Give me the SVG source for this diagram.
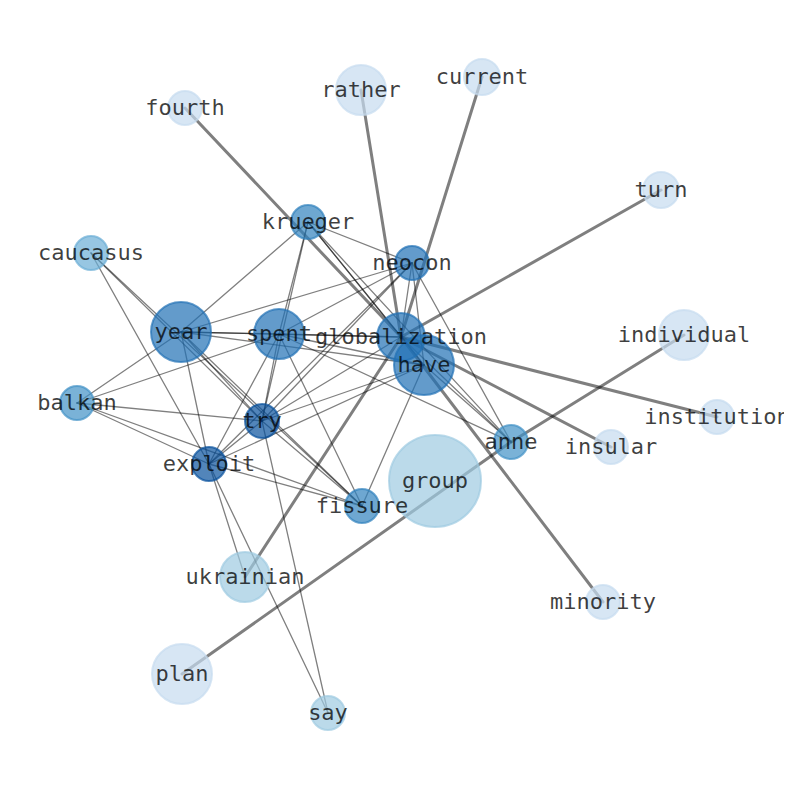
<svg xmlns="http://www.w3.org/2000/svg" width="794" height="790" viewBox="0 0 794 790">
<style>
.e{stroke:#000;stroke-opacity:0.5;fill:none;stroke-linecap:round}
.t{stroke-width:1.3}
.k{stroke-width:3}
circle{fill-opacity:0.7;stroke-opacity:0.7;stroke-width:2}
.c1{fill:#08519c;stroke:#08519c}
.c2{fill:#2171b5;stroke:#2171b5}
.c3{fill:#3182bd;stroke:#3182bd}
.c4{fill:#4292c6;stroke:#4292c6}
.c5{fill:#6baed6;stroke:#6baed6}
.c6{fill:#9ecae1;stroke:#9ecae1}
.c7{fill:#c6dbef;stroke:#c6dbef}
text{font-family:"DejaVu Sans Mono","Liberation Mono",monospace;font-size:22px;fill:#000;fill-opacity:0.75;text-anchor:middle;dominant-baseline:central}
</style>
<defs><clipPath id="frame"><rect x="0" y="0" width="784" height="784"/></clipPath></defs>
<rect width="794" height="790" fill="#fff"/>
<g clip-path="url(#frame)">
<g id="edges">
<line class="e k" x1="185" y1="108" x2="401" y2="337"/>
<line class="e k" x1="361" y1="90" x2="401" y2="337"/>
<line class="e k" x1="482" y1="77" x2="401" y2="337"/>
<line class="e k" x1="661" y1="190" x2="401" y2="337"/>
<line class="e k" x1="717" y1="417" x2="401" y2="337"/>
<line class="e k" x1="611" y1="447" x2="401" y2="337"/>
<line class="e k" x1="603" y1="602" x2="401" y2="337"/>
<line class="e k" x1="245" y1="577" x2="401" y2="337"/>
<line class="e k" x1="684" y1="335" x2="511" y2="442"/>
<line class="e k" x1="182" y1="674" x2="511" y2="442"/>
<line class="e t" x1="308" y1="222" x2="181" y2="332"/>
<line class="e t" x1="308" y1="222" x2="412" y2="263"/>
<line class="e t" x1="308" y1="222" x2="279" y2="334"/>
<line class="e t" x1="308" y1="222" x2="262" y2="421"/>
<line class="e t" x1="308" y1="222" x2="401" y2="337"/>
<line class="e t" x1="308" y1="222" x2="424" y2="365"/>
<line class="e t" x1="308" y1="222" x2="511" y2="442"/>
<line class="e t" x1="412" y1="263" x2="181" y2="332"/>
<line class="e t" x1="412" y1="263" x2="279" y2="334"/>
<line class="e t" x1="412" y1="263" x2="262" y2="421"/>
<line class="e t" x1="412" y1="263" x2="209" y2="464"/>
<line class="e t" x1="412" y1="263" x2="401" y2="337"/>
<line class="e t" x1="412" y1="263" x2="424" y2="365"/>
<line class="e t" x1="412" y1="263" x2="511" y2="442"/>
<line class="e t" x1="181" y1="332" x2="279" y2="334"/>
<line class="e t" x1="181" y1="332" x2="401" y2="337"/>
<line class="e t" x1="181" y1="332" x2="424" y2="365"/>
<line class="e t" x1="181" y1="332" x2="77" y2="403"/>
<line class="e t" x1="181" y1="332" x2="262" y2="421"/>
<line class="e t" x1="181" y1="332" x2="209" y2="464"/>
<line class="e t" x1="181" y1="332" x2="362" y2="506"/>
<line class="e t" x1="279" y1="334" x2="401" y2="337"/>
<line class="e t" x1="279" y1="334" x2="424" y2="365"/>
<line class="e t" x1="279" y1="334" x2="77" y2="403"/>
<line class="e t" x1="279" y1="334" x2="262" y2="421"/>
<line class="e t" x1="279" y1="334" x2="209" y2="464"/>
<line class="e t" x1="279" y1="334" x2="362" y2="506"/>
<line class="e t" x1="279" y1="334" x2="511" y2="442"/>
<line class="e t" x1="91" y1="253" x2="262" y2="421"/>
<line class="e t" x1="91" y1="253" x2="362" y2="506"/>
<line class="e t" x1="91" y1="253" x2="209" y2="464"/>
<line class="e t" x1="77" y1="403" x2="262" y2="421"/>
<line class="e t" x1="77" y1="403" x2="209" y2="464"/>
<line class="e t" x1="77" y1="403" x2="362" y2="506"/>
<line class="e t" x1="262" y1="421" x2="209" y2="464"/>
<line class="e t" x1="262" y1="421" x2="401" y2="337"/>
<line class="e t" x1="262" y1="421" x2="424" y2="365"/>
<line class="e t" x1="262" y1="421" x2="362" y2="506"/>
<line class="e t" x1="262" y1="421" x2="328" y2="713"/>
<line class="e t" x1="209" y1="464" x2="424" y2="365"/>
<line class="e t" x1="209" y1="464" x2="362" y2="506"/>
<line class="e t" x1="209" y1="464" x2="245" y2="577"/>
<line class="e t" x1="209" y1="464" x2="328" y2="713"/>
<line class="e t" x1="362" y1="506" x2="424" y2="365"/>
<line class="e t" x1="424" y1="365" x2="511" y2="442"/>
<line class="e t" x1="401" y1="337" x2="511" y2="442"/>
</g>
<g id="nodes">
<g id="node-group"><circle class="c6" cx="435" cy="481" r="46"/></g>
<g id="node-plan"><circle class="c7" cx="182" cy="674" r="30"/></g>
<g id="node-ukrainian"><circle class="c6" cx="245" cy="577" r="25"/></g>
<g id="node-say"><circle class="c6" cx="328" cy="713" r="17"/></g>
<g id="node-minority"><circle class="c7" cx="603" cy="602" r="17"/></g>
<g id="node-fourth"><circle class="c7" cx="185" cy="108" r="17"/></g>
<g id="node-rather"><circle class="c7" cx="361" cy="90" r="25"/></g>
<g id="node-current"><circle class="c7" cx="482" cy="77" r="18"/></g>
<g id="node-turn"><circle class="c7" cx="661" cy="190" r="18"/></g>
<g id="node-individual"><circle class="c7" cx="684" cy="335" r="25"/></g>
<g id="node-institution"><circle class="c7" cx="717" cy="417" r="17"/></g>
<g id="node-insular"><circle class="c7" cx="611" cy="447" r="17"/></g>
<g id="node-caucasus"><circle class="c5" cx="91" cy="253" r="17"/></g>
<g id="node-balkan"><circle class="c4" cx="77" cy="403" r="17"/></g>
<g id="node-anne"><circle class="c4" cx="511" cy="442" r="17"/></g>
<g id="node-krueger"><circle class="c3" cx="308" cy="222" r="17"/></g>
<g id="node-neocon"><circle class="c2" cx="412" cy="263" r="17"/></g>
<g id="node-year"><circle class="c2" cx="181" cy="332" r="30"/></g>
<g id="node-spent"><circle class="c2" cx="279" cy="334" r="25"/></g>
<g id="node-have"><circle class="c2" cx="424" cy="365" r="30"/></g>
<g id="node-globalization"><circle class="c2" cx="401" cy="337" r="24"/></g>
<g id="node-try"><circle class="c1" cx="262" cy="421" r="17"/></g>
<g id="node-exploit"><circle class="c1" cx="209" cy="464" r="17"/></g>
<g id="node-fissure"><circle class="c3" cx="362" cy="506" r="17"/></g>
</g>
<g id="labels" transform="translate(0,-1)">
<text id="label-group" x="435" y="481">group</text>
<text id="label-plan" x="182" y="674">plan</text>
<text id="label-ukrainian" x="245" y="577">ukrainian</text>
<text id="label-say" x="328" y="713">say</text>
<text id="label-minority" x="603" y="602">minority</text>
<text id="label-fourth" x="185" y="108">fourth</text>
<text id="label-rather" x="361" y="90">rather</text>
<text id="label-current" x="482" y="77">current</text>
<text id="label-turn" x="661" y="190">turn</text>
<text id="label-individual" x="684" y="335">individual</text>
<text id="label-institution" x="717" y="417">institution</text>
<text id="label-insular" x="611" y="447">insular</text>
<text id="label-caucasus" x="91" y="253">caucasus</text>
<text id="label-balkan" x="77" y="403">balkan</text>
<text id="label-anne" x="511" y="442">anne</text>
<text id="label-krueger" x="308" y="222">krueger</text>
<text id="label-neocon" x="412" y="263">neocon</text>
<text id="label-year" x="181" y="332">year</text>
<text id="label-spent" x="279" y="334">spent</text>
<text id="label-have" x="424" y="365">have</text>
<text id="label-globalization" x="401" y="337">globalization</text>
<text id="label-try" x="262" y="421">try</text>
<text id="label-exploit" x="209" y="464">exploit</text>
<text id="label-fissure" x="362" y="506">fissure</text>
</g>
</g>
</svg>
